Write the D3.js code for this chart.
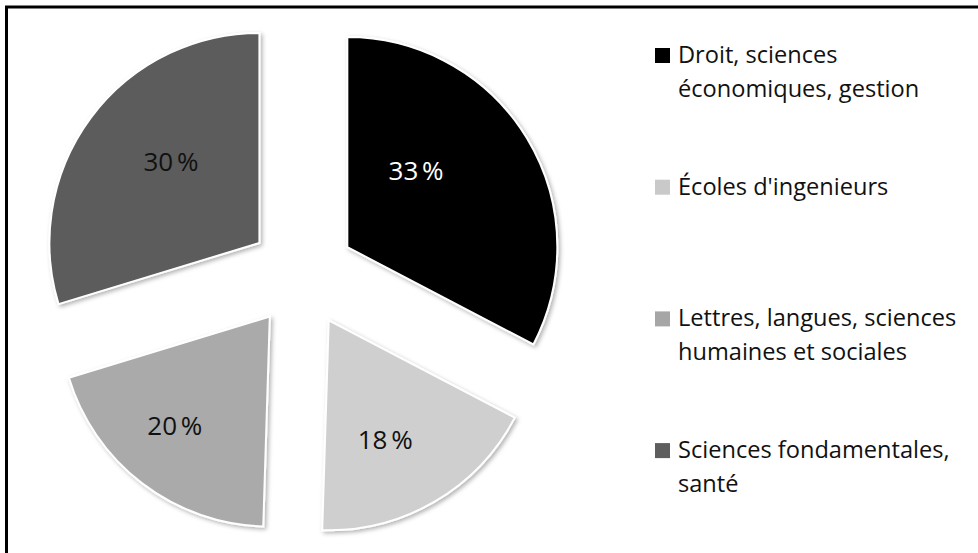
<!DOCTYPE html>
<html>
<head>
<meta charset="utf-8">
<script src="https://cdn.jsdelivr.net/npm/d3@7"></script>
<style>
  html, body { margin: 0; padding: 0; background: #fff; }
  svg { display: block; }
  text { font-family: "Open Sans", Lato, sans-serif; }
</style>
</head>
<body>
<div id="chart"></div>
<script>
// data
var categories = ["Droit, sciences économiques, gestion", "Écoles d'ingenieurs",
                  "Lettres, langues, sciences humaines et sociales", "Sciences fondamentales, santé"];
var legendLines = [["Droit, sciences", "économiques, gestion"],
                   ["Écoles d'ingenieurs"],
                   ["Lettres, langues, sciences", "humaines et sociales"],
                   ["Sciences fondamentales,", "santé"]];
var values = [33, 18, 20, 30];
var valueLabels = ["33 %", "18 %", "20 %", "30 %"];
var sliceColors = ["#000000", "#cfcfcf", "#aaaaaa", "#5c5c5c"];
var swatchColors = ["#000000", "#c9c9c9", "#a6a6a6", "#5e5e5e"];
var labelColors = ["#ffffff", "#111111", "#111111", "#111111"];

var width = 978,
    height = 553,
    cx = 302,
    cy = 274.5,
    radius = 210,
    explode = 53;

// label placement around each exploded slice (angle shift in degrees, distance from slice tip)
var labelShift = [-17, 5, 3.5, 6],
    labelDist = [103, 132, 145, 120];

var svg = d3.select('#chart')
    .append('svg')
    .attr('width', width)
    .attr('height', height);

var defs = svg.append('defs');
var shadow = defs.append('filter')
    .attr('id', 'shadow')
    .attr('x', '-10%').attr('y', '-10%')
    .attr('width', '130%').attr('height', '130%');
shadow.append('feDropShadow')
    .attr('dx', 2).attr('dy', 2)
    .attr('stdDeviation', 2)
    .attr('flood-color', '#000')
    .attr('flood-opacity', 0.3);

// frame (only top and left edges show in the picture)
svg.append('rect')
    .attr('x', 6.5).attr('y', 7)
    .attr('width', 1100).attr('height', 700)
    .style('fill', 'none')
    .style('stroke', '#000')
    .style('stroke-width', 3);

var pie = d3.pie().sort(null).value(function (d) { return d; });
var arc = d3.arc().innerRadius(0).outerRadius(radius);
var arcs = pie(values);

var pieGroup = svg.append('g')
    .attr('transform', 'translate(' + cx + ',' + cy + ')');

var slices = pieGroup.selectAll('.slice')
    .data(arcs)
    .enter().append('g')
    .attr('class', 'slice')
    .attr('transform', function (d) {
        var mid = (d.startAngle + d.endAngle) / 2;
        return 'translate(' + (explode * Math.sin(mid)) + ',' + (-explode * Math.cos(mid)) + ')';
    });

slices.append('path')
    .attr('d', arc)
    .style('fill', function (d, i) { return sliceColors[i]; })
    .style('stroke', '#fff')
    .style('stroke-width', 2)
    .attr('filter', 'url(#shadow)');

slices.append('text')
    .attr('x', function (d, i) {
        var a = (d.startAngle + d.endAngle) / 2 + labelShift[i] * Math.PI / 180;
        return labelDist[i] * Math.sin(a);
    })
    .attr('y', function (d, i) {
        var a = (d.startAngle + d.endAngle) / 2 + labelShift[i] * Math.PI / 180;
        return -labelDist[i] * Math.cos(a);
    })
    .attr('dy', '0.36em')
    .attr('text-anchor', 'middle')
    .style('font-size', '26px')
    .style('word-spacing', '-3px')
    .style('fill', function (d, i) { return labelColors[i]; })
    .text(function (d, i) { return valueLabels[i]; });

// legend
var legend = svg.append('g')
    .attr('transform', 'translate(655,63)');

var items = legend.selectAll('.item')
    .data(categories)
    .enter().append('g')
    .attr('class', 'item')
    .attr('transform', function (d, i) { return 'translate(0,' + (i * 131.7) + ')'; });

items.append('rect')
    .attr('x', 0).attr('y', -15)
    .attr('width', 15).attr('height', 15)
    .style('fill', function (d, i) { return swatchColors[i]; });

items.append('text')
    .attr('x', 23)
    .style('font-size', '23.6px')
    .style('fill', '#111')
    .each(function (d, i) {
        var t = d3.select(this);
        legendLines[i].forEach(function (line, k) {
            t.append('tspan')
                .attr('x', 23)
                .attr('y', k * 33.5)
                .text(line);
        });
    });
</script>
</body>
</html>
